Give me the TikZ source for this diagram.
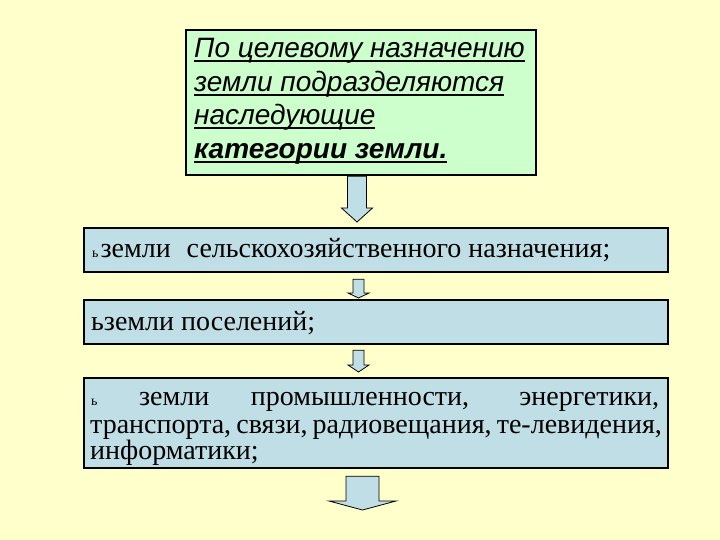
\documentclass[tikz,border=0pt]{standalone}
\usepackage{fontspec}
\setmainfont{Liberation Serif}
\newfontfamily\arialf{Liberation Sans}
\usetikzlibrary{calc}
\definecolor{bgc}{HTML}{FFFFCC}
\definecolor{greenc}{HTML}{CCFFCC}
\definecolor{bluec}{HTML}{C0DEE5}
\newcommand\myul[2]{\setbox0\hbox{#2}\rlap{\rule[-4pt]{\wd0}{#1}}\box0}
% #1 from, #2 to, #3 x, #4 shaft half, #5 head half, #6 head length, #7 top gap, #8 tip gap
\newcommand\blockarrow[8]{%
\filldraw[barrow] let \p1=(#1), \p2=(#2) in
 ({(#3-#4)*1pt},{\y1-#7pt}) -- ({(#3+#4)*1pt},{\y1-#7pt})
 -- ({(#3+#4)*1pt},{\y2+#8pt+#6pt}) -- ({(#3+#5)*1pt},{\y2+#8pt+#6pt})
 -- ({#3pt},{\y2+#8pt}) -- ({(#3-#5)*1pt},{\y2+#8pt+#6pt})
 -- ({(#3-#4)*1pt},{\y2+#8pt+#6pt}) -- cycle;}
\begin{document}
\begin{tikzpicture}[x=1pt,y=-1pt,
 box/.style={draw=black, line width=2.2pt, inner sep=0pt, anchor=north west},
 topline/.style={anchor=base west, inner sep=0pt, font=\arialf\itshape\fontsize{28}{34}\selectfont},
 txt/.style={anchor=base west, inner sep=0pt, font=\fontsize{28}{28}\selectfont},
 barrow/.style={fill=bluec, draw=black, line width=0.8pt, line join=miter}]
\fill[bgc] (0,0) rectangle (720,540);
\useasboundingbox (0,0) rectangle (720,540);

\node[box, fill=greenc, minimum width=350pt, minimum height=145pt] (b0) at (185,29) {};
\node[box, fill=bluec, minimum width=584pt, minimum height=44pt] (b1) at (83,227) {};
\node[box, fill=bluec, minimum width=584pt, minimum height=44pt] (b2) at (83,299) {};
\node[box, fill=bluec, minimum width=584pt, minimum height=90pt] (b3) at (83,377) {};

\node[topline] (t0a) at (194,58) {\myul{1.6pt}{По целевому назначению}};
\node[topline] (t0b) at (194,92) {\myul{1.6pt}{земли подразделяются}};
\node[topline] (t0c) at (194,125) {\myul{1.6pt}{наследующие}};
\node[topline] (t0d) at (194,159) {\myul{2.4pt}{\bfseries категории земли.}};

\node[txt] (t1) at (92,257) {{\fontsize{14}{14}\selectfont ь}\hspace{2pt}земли\hspace{9pt} сельскохозяйственного назначения;};
\node[txt] (t2) at (91,330) {ьземли поселений;};
\node[txt] (t3a) at (91,405) {\makebox[568pt][s]{{\fontsize{14}{14}\selectfont ь} земли промышленности, энергетики,}};
\node[txt] (t3b) at (90,433) {\makebox[570pt][s]{транспорта, связи, радиовещания, те-левидения,}};
\node[txt] (t3c) at (90,459) {информатики;};

\coordinate (e4) at (362.5,510);
\blockarrow{b0.south}{b1.north}{357}{9.5}{15.5}{14}{0}{5}
\blockarrow{b1.south}{b2.north}{358.5}{5.5}{10.5}{5}{6}{1}
\blockarrow{b2.south}{b3.north}{358.5}{5.5}{10.5}{7}{5}{5}
\blockarrow{b3.south}{e4}{362.5}{16.5}{33.5}{9}{7}{0}
\end{tikzpicture}
\end{document}
